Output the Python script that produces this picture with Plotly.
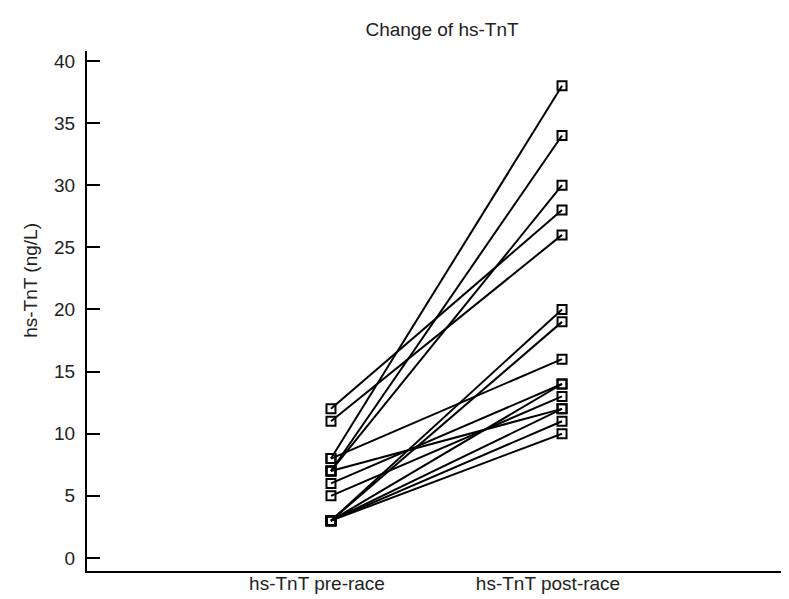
import plotly.graph_objects as go

# Data (one pair per subject)
categories = ["hs-TnT pre-race", "hs-TnT post-race"]
pre_race = [12, 11, 8, 8, 7, 7, 7, 6, 5, 3, 3, 3, 3, 3, 3]
post_race = [28, 26, 38, 16, 34, 30, 12, 14, 13, 20, 19, 14, 12, 11, 10]
y_ticks = [0, 5, 10, 15, 20, 25, 30, 35, 40]

font_family = "Liberation Sans, Arial, sans-serif"

fig = go.Figure()
for a, b in zip(pre_race, post_race):
    fig.add_trace(go.Scatter(
        x=[1, 2], y=[a, b], mode="lines+markers",
        line=dict(color="black", width=2),
        marker=dict(symbol="square-open", size=9, color="black",
                    line=dict(color="black", width=2)),
        showlegend=False, hoverinfo="y"))

fig.update_layout(
    width=789, height=599,
    margin=dict(l=79, r=0, t=43, b=36),
    paper_bgcolor="white", plot_bgcolor="white",
    font=dict(family=font_family, size=19, color="#222"),
    title=dict(text="Change of hs-TnT", x=0.5, xref="paper", xanchor="center",
               y=1 - 21 / 599, yanchor="middle",
               font=dict(size=19, color="#222")),
    xaxis=dict(range=[-0.056, 3.017], tickvals=[1, 2], ticktext=categories,
               showgrid=False, zeroline=False, showline=True,
               linecolor="black", linewidth=2, ticks="",
               ticklabelshift=-14, ticklabelstandoff=-6),
    yaxis=dict(range=[-1.05, 40.8], tickvals=y_ticks,
               showgrid=False, zeroline=False, showline=True,
               linecolor="black", linewidth=2,
               ticks="inside", ticklen=13, tickwidth=2, tickcolor="black",
               ticklabelstandoff=6),
    annotations=[dict(text="hs-TnT (ng/L)", xref="paper", yref="paper",
                      x=-0.0789, y=0.56, textangle=-90, showarrow=False,
                      xanchor="center", yanchor="middle",
                      font=dict(size=19, color="#222"))],
)

fig.write_html("out.html")
